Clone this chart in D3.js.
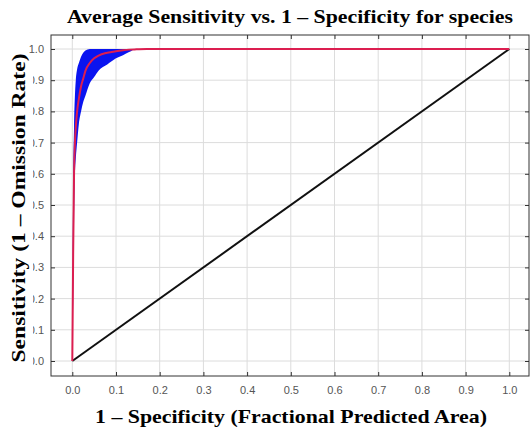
<!DOCTYPE html>
<html>
<head>
<meta charset="utf-8">
<script src="https://cdn.jsdelivr.net/npm/d3@7"></script>
<style>
  body { margin: 0; background: #fff; }
  svg { display: block; }
</style>
</head>
<body>
<svg id="chart" width="530" height="434"></svg>
<script>
// values
const fpr       = [0, 0.002, 0.004, 0.006, 0.008, 0.011, 0.015, 0.02, 0.025, 0.03, 0.04, 0.05, 0.06, 0.08, 0.1, 0.116, 0.13, 0.147, 0.17, 1.0];
const sensMean  = [0, 0.35, 0.6, 0.7, 0.75, 0.8, 0.84, 0.88, 0.905, 0.93, 0.955, 0.97, 0.979, 0.988, 0.993, 0.996, 0.998, 0.999, 1.0, 1.0];
const sensUpper = [0, 0.55, 0.75, 0.85, 0.9, 0.935, 0.955, 0.975, 0.988, 0.995, 1.0, 1.0, 1.0, 1.0, 1.0, 1.0, 1.0, 1.0, 1.0, 1.0];
const sensLower = [0, 0.2, 0.45, 0.6, 0.65, 0.7, 0.76, 0.8, 0.83, 0.85, 0.89, 0.91, 0.93, 0.95, 0.97, 0.98, 0.99, 1.0, 1.0, 1.0];
const randomX   = [0, 1];
const randomY   = [0, 1];
const xTicks    = d3.range(0, 11).map(d => d / 10);
const yTicks    = d3.range(0, 11).map(d => d / 10);
const tickLabels = xTicks.map(d => d.toFixed(1));

const svg = d3.select("#chart");
const frame = { left: 51, top: 35, right: 529, bottom: 376 };

const x = d3.scaleLinear().domain([0, 1]).range([72.3, 509.3]);
const y = d3.scaleLinear().domain([0, 1]).range([361, 49]);

// grid
svg.append("g").selectAll("line").data(xTicks).enter().append("line")
  .attr("x1", d => x(d)).attr("x2", d => x(d))
  .attr("y1", frame.top).attr("y2", frame.bottom)
  .attr("stroke", "#dcdcdc").attr("stroke-width", 1);
svg.append("g").selectAll("line").data(yTicks).enter().append("line")
  .attr("y1", d => y(d)).attr("y2", d => y(d))
  .attr("x1", frame.left).attr("x2", frame.right)
  .attr("stroke", "#dcdcdc").attr("stroke-width", 1);

const pts = fpr.map((f, i) => ({ f: f, m: sensMean[i], lo: sensLower[i], hi: sensUpper[i] }));

// blue band
const band = d3.area()
  .x(d => x(d.f))
  .y0(d => y(d.lo))
  .y1(d => y(d.hi))
  .curve(d3.curveMonotoneX);
svg.append("path").datum(pts)
  .attr("d", band)
  .attr("fill", "#0a14f0");

// random prediction line
svg.append("path")
  .datum(randomX.map((v, i) => [v, randomY[i]]))
  .attr("d", d3.line().x(d => x(d[0])).y(d => y(d[1])))
  .attr("fill", "none").attr("stroke", "#111").attr("stroke-width", 2);

// mean curve
svg.append("path").datum(pts)
  .attr("d", d3.line().x(d => x(d.f)).y(d => y(d.m)).curve(d3.curveMonotoneX))
  .attr("fill", "none").attr("stroke", "#dc1e50").attr("stroke-width", 2);

// axes with inward ticks
const tickFmt = (d, i) => tickLabels[i];
const axBottom = svg.append("g").attr("transform", `translate(0,${frame.bottom})`)
  .call(d3.axisBottom(x).tickValues(xTicks).tickSize(-4).tickPadding(10).tickFormat(tickFmt));
const axTop = svg.append("g").attr("transform", `translate(0,${frame.top})`)
  .call(d3.axisTop(x).tickValues(xTicks).tickSize(-4).tickFormat(""));
const axLeft = svg.append("g").attr("transform", `translate(${frame.left},0)`)
  .call(d3.axisLeft(y).tickValues(yTicks).tickSize(-4).tickPadding(7).tickFormat(d => d.toFixed(1)));
const axRight = svg.append("g").attr("transform", `translate(${frame.right},0)`)
  .call(d3.axisRight(y).tickValues(yTicks).tickSize(-4).tickFormat(""));

[axBottom, axTop, axLeft, axRight].forEach(g => {
  g.select(".domain").remove();
  g.selectAll(".tick line").attr("stroke", "#333");
  g.selectAll("text")
    .attr("fill", "#555")
    .style("font-family", "'Liberation Sans', Arial, sans-serif")
    .style("font-size", "11px");
});

svg.append("rect")
  .attr("x", frame.left).attr("y", frame.top)
  .attr("width", frame.right - frame.left).attr("height", frame.bottom - frame.top)
  .attr("fill", "none").attr("stroke", "#333").attr("stroke-width", 1);

// titles
const serif = "'Liberation Serif', 'Times New Roman', serif";
svg.append("text")
  .attr("x", 290).attr("y", 23)
  .attr("text-anchor", "middle")
  .attr("textLength", 446).attr("lengthAdjust", "spacingAndGlyphs")
  .style("font-family", serif).style("font-weight", "bold").style("font-size", "18px")
  .text("Average Sensitivity vs. 1 \u2013 Specificity for species");

svg.append("text")
  .attr("x", 291).attr("y", 423)
  .attr("text-anchor", "middle")
  .attr("textLength", 392).attr("lengthAdjust", "spacingAndGlyphs")
  .style("font-family", serif).style("font-weight", "bold").style("font-size", "19px")
  .text("1 \u2013 Specificity (Fractional Predicted Area)");

const yTitle = svg.append("g").attr("transform", "translate(25,208) rotate(-90)");
yTitle.append("rect")
  .attr("x", -162).attr("y", -25).attr("width", 313).attr("height", 33)
  .attr("fill", "#fff");
yTitle.append("text")
  .attr("x", 0).attr("y", 0)
  .attr("text-anchor", "middle")
  .attr("textLength", 309).attr("lengthAdjust", "spacingAndGlyphs")
  .style("font-family", serif).style("font-weight", "bold").style("font-size", "19px")
  .text("Sensitivity (1 \u2013 Omission Rate)");
</script>
</body>
</html>
